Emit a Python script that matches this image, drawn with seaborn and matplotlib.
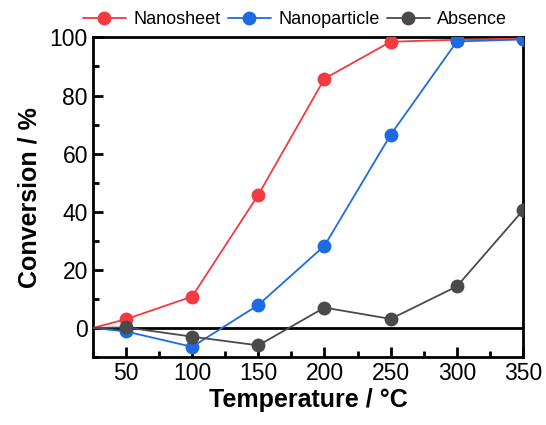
import numpy as np
import pandas as pd
import matplotlib
matplotlib.use("Agg")
import matplotlib.pyplot as plt
import seaborn as sns
from matplotlib.ticker import MultipleLocator

# Data
temperature = [25, 50, 100, 150, 200, 250, 300, 350]
nanosheet = [0, 3, 10.8, 45.8, 85.8, 98.5, 99.2, 99.6]
nanoparticle = [0, -1.2, -6.5, 7.9, 28.3, 66.5, 98.6, 99.3]
absence = [0, 0.2, -3.0, -6.0, 7.0, 3.1, 14.3, 40.5]

series_names = ["Nanosheet", "Nanoparticle", "Absence"]
colors = ["#F23A40", "#1C6BE3", "#4A4A4A"]

df = pd.DataFrame({"Temperature": temperature,
                   "Nanosheet": nanosheet,
                   "Nanoparticle": nanoparticle,
                   "Absence": absence})
df_long = df.melt(id_vars="Temperature", var_name="Sample", value_name="Conversion")

sns.set_style("ticks")
plt.rcParams['font.family'] = ['Liberation Sans', 'DejaVu Sans']
plt.rcParams.update({"text.color": "black", "axes.labelcolor": "black",
                     "xtick.color": "black", "ytick.color": "black",
                     "axes.edgecolor": "black"})

fig, ax = plt.subplots(figsize=(5.46, 4.25), dpi=100)

ax.axhline(0, color="black", lw=2, zorder=1)

for name, c in zip(series_names, colors):
    sub = df_long[df_long["Sample"] == name]
    sns.lineplot(data=sub, x="Temperature", y="Conversion", ax=ax, color=c,
                 lw=1.3, marker="o", markersize=10, markeredgewidth=0,
                 markevery=list(range(1, len(sub))), label=name, zorder=3)

ax.set_xlim(25, 350)
ax.set_ylim(-10, 100)
ax.xaxis.set_major_locator(MultipleLocator(50))
ax.xaxis.set_minor_locator(MultipleLocator(25))
ax.yaxis.set_major_locator(MultipleLocator(20))
ax.yaxis.set_minor_locator(MultipleLocator(10))
ax.tick_params(which="both", direction="in", width=2, labelsize=16.5)
ax.tick_params(which="major", length=7)
ax.tick_params(which="minor", length=4)
for s in ax.spines.values():
    s.set_linewidth(2)

ax.set_xlabel("Temperature / °C", fontsize=18, fontweight="bold", labelpad=2)
ax.set_ylabel("Conversion / %", fontsize=18, fontweight="bold", labelpad=6)

ax.legend(loc="lower center", bbox_to_anchor=(0.47, 1.0), ncol=3, frameon=False,
          fontsize=13, handlelength=2.4, columnspacing=0.4, handletextpad=0.4,
          borderaxespad=0.1)

fig.subplots_adjust(left=0.17, right=0.958, top=0.912, bottom=0.16)
fig.savefig("out.png", dpi=100)
